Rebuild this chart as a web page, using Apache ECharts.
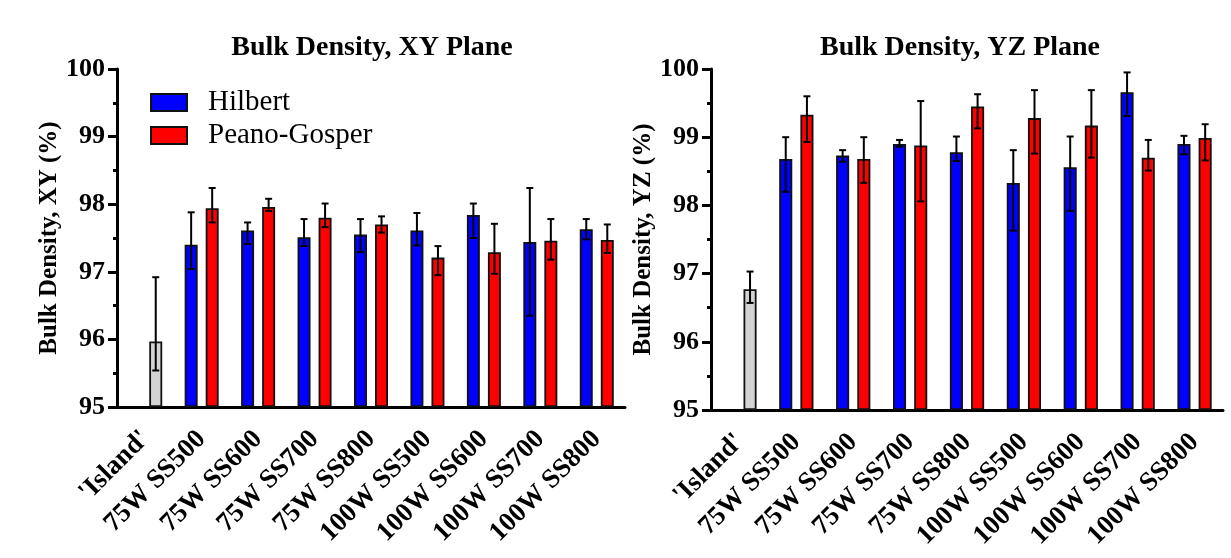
<!DOCTYPE html>
<html>
<head>
<meta charset="utf-8">
<script src="https://cdn.jsdelivr.net/npm/echarts@6/dist/echarts.min.js"></script>
<style>
html,body{margin:0;padding:0;background:#fff;}
#c{width:1231px;height:558px;}
</style>
</head>
<body>
<div id="c"></div>
<script>
// ---------- data ----------
const categories = ["'Island'", '75W SS500', '75W SS600', '75W SS700', '75W SS800',
  '100W SS500', '100W SS600', '100W SS700', '100W SS800'];
const yTicks = [95, 96, 97, 98, 99, 100];

// 'Island' reference sample: [mean, low, high]
const islandXY = [95.97, 95.54, 96.92];
const islandYZ = [96.77, 96.57, 97.03];

const hilbertXY     = [null, 97.40, 97.61, 97.51, 97.55, 97.61, 97.84, 97.44, 97.63];
const hilbertXYLow  = [null, 97.04, 97.41, 97.38, 97.29, 97.39, 97.50, 96.35, 97.48];
const hilbertXYHigh = [null, 97.88, 97.73, 97.78, 97.78, 97.87, 98.01, 98.24, 97.78];
const peanoXY       = [null, 97.94, 97.96, 97.80, 97.70, 97.21, 97.29, 97.46, 97.47];
const peanoXYLow    = [null, 97.73, 97.90, 97.66, 97.58, 96.95, 96.97, 97.18, 97.28];
const peanoXYHigh   = [null, 98.24, 98.08, 98.01, 97.82, 97.38, 97.71, 97.78, 97.70];

const hilbertYZ     = [null, 98.68, 98.73, 98.90, 98.78, 98.33, 98.56, 99.66, 98.90];
const hilbertYZLow  = [null, 98.20, 98.64, 98.86, 98.65, 97.63, 97.92, 99.31, 98.75];
const hilbertYZHigh = [null, 99.00, 98.81, 98.96, 99.01, 98.81, 99.01, 99.95, 99.02];
const peanoYZ       = [null, 99.33, 98.68, 98.88, 99.45, 99.28, 99.17, 98.70, 98.99];
const peanoYZLow    = [null, 98.93, 98.33, 98.06, 99.13, 98.76, 98.70, 98.51, 98.66];
const peanoYZHigh   = [null, 99.60, 99.00, 99.53, 99.63, 99.69, 99.69, 98.96, 99.19];

// ---------- style ----------
const FONT = '"Liberation Serif", "Times New Roman", serif';
const BLUE = '#0000ff', RED = '#ff0000', GRAY = '#d3d3d3';
const BAR_W = 0.23, BAR_GAP = 0.62;

function peanoData(island, vals) {
  return vals.map((v, i) => i === 0
    ? { value: island[0], itemStyle: { color: GRAY } }
    : v);
}
function errData(lo, hi, side) {
  const out = [];
  lo.forEach((l, i) => { if (l != null) out.push([i, l, hi[i], side]); });
  return out;
}
function renderErr(params, api) {
  const idx = api.value(0), lo = api.value(1), hi = api.value(2), side = api.value(3);
  const cw = api.size([1, 0])[0];
  const off = side * cw * BAR_W * (1 + BAR_GAP) / 2;
  const pLo = api.coord([idx, lo]);
  const pHi = api.coord([idx, hi]);
  const x = pLo[0] + off, cap = 3.5;
  const st = { stroke: '#000', lineWidth: 2 };
  return {
    type: 'group',
    children: [
      { type: 'line', shape: { x1: x, y1: pLo[1], x2: x, y2: pHi[1] }, style: st },
      { type: 'line', shape: { x1: x - cap, y1: pLo[1], x2: x + cap, y2: pLo[1] }, style: st },
      { type: 'line', shape: { x1: x - cap, y1: pHi[1], x2: x + cap, y2: pHi[1] }, style: st }
    ]
  };
}

function xAxis(gi) {
  return {
    type: 'category', gridIndex: gi, data: categories,
    axisLine: { lineStyle: { color: '#000', width: 3 } },
    axisTick: { alignWithLabel: true, length: 8, lineStyle: { color: '#000', width: 3 } },
    axisLabel: { interval: 0, rotate: 45, margin: 28, color: '#000',
      fontFamily: FONT, fontWeight: 'bold', fontSize: 27 },
    splitLine: { show: false }
  };
}
function yAxis(gi, name, gap) {
  return {
    type: 'value', gridIndex: gi, min: yTicks[0], max: yTicks[yTicks.length - 1],
    interval: 1, startValue: yTicks[0],
    name: name, nameLocation: 'middle', nameGap: gap,
    nameTextStyle: { color: '#000', fontFamily: FONT, fontWeight: 'bold', fontSize: 25 },
    axisLine: { show: true, lineStyle: { color: '#000', width: 3 } },
    axisTick: { show: true, length: 9, lineStyle: { color: '#000', width: 3 } },
    minorTick: { show: true, splitNumber: 2, length: 4, lineStyle: { color: '#000', width: 3 } },
    axisLabel: { margin: 12, color: '#000', fontFamily: FONT, fontWeight: 'bold', fontSize: 26 },
    splitLine: { show: false }, minorSplitLine: { show: false }
  };
}
function barSeries(name, color, data, gi) {
  return {
    type: 'bar', name: name, xAxisIndex: gi, yAxisIndex: gi, data: data,
    barWidth: (BAR_W * 100) + '%', barGap: (BAR_GAP * 100) + '%',
    itemStyle: { color: color, borderColor: '#111', borderWidth: 1.8 },
    emphasis: { disabled: true }
  };
}
function errSeries(lo, hi, side, gi) {
  return {
    type: 'custom', xAxisIndex: gi, yAxisIndex: gi, renderItem: renderErr,
    data: errData(lo, hi, side), z: 5, silent: true
  };
}

const islandLo = (isl) => [isl[1]].concat(new Array(categories.length - 1).fill(null));
const islandHi = (isl) => [isl[2]].concat(new Array(categories.length - 1).fill(null));

const chart = echarts.init(document.getElementById('c'), null, { renderer: 'canvas' });
chart.setOption({
  backgroundColor: '#fff',
  animation: false,
  title: [
    { text: 'Bulk Density, XY Plane', left: 367, top: 29, textAlign: 'center',
      textStyle: { fontFamily: FONT, fontWeight: 'bold', fontSize: 28, color: '#000' } },
    { text: 'Bulk Density, YZ Plane', left: 955, top: 29, textAlign: 'center',
      textStyle: { fontFamily: FONT, fontWeight: 'bold', fontSize: 28, color: '#000' } }
  ],
  legend: {
    data: ['Hilbert', 'Peano-Gosper'], orient: 'vertical', left: 150, top: 88, padding: 0,
    itemWidth: 36, itemHeight: 17, itemGap: 4, icon: 'rect',
    textStyle: { fontFamily: FONT, fontSize: 29, color: '#000', padding: [0, 0, 0, 16] },
    selectedMode: false
  },
  grid: [
    { left: 117, top: 69, width: 508, height: 338 },
    { left: 711, top: 69, width: 512, height: 341 }
  ],
  xAxis: [xAxis(0), xAxis(1)],
  yAxis: [yAxis(0, 'Bulk Density, XY (%)', 50), yAxis(1, 'Bulk Density, YZ (%)', 46)],
  series: [
    barSeries('Hilbert', BLUE, hilbertXY, 0),
    barSeries('Peano-Gosper', RED, peanoData(islandXY, peanoXY), 0),
    errSeries(hilbertXYLow, hilbertXYHigh, -1, 0),
    errSeries(peanoXYLow, peanoXYHigh, 1, 0),
    errSeries(islandLo(islandXY), islandHi(islandXY), 1, 0),
    barSeries('Hilbert', BLUE, hilbertYZ, 1),
    barSeries('Peano-Gosper', RED, peanoData(islandYZ, peanoYZ), 1),
    errSeries(hilbertYZLow, hilbertYZHigh, -1, 1),
    errSeries(peanoYZLow, peanoYZHigh, 1, 1),
    errSeries(islandLo(islandYZ), islandHi(islandYZ), 1, 1)
  ]
});
</script>
</body>
</html>
